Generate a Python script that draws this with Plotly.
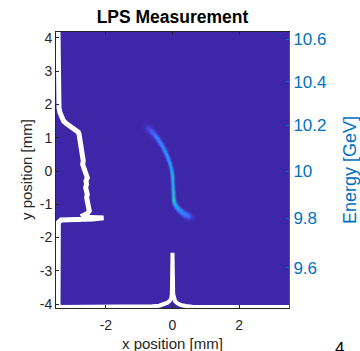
import numpy as np
import plotly.graph_objects as go

# ---------------- data ----------------
# LPS streak ridge (x [mm], y [mm], relative intensity, half-width [mm])
ridge_x = [-0.82, -0.74, -0.63, -0.54, -0.46, -0.39, -0.32, -0.26, -0.21, -0.16,
           -0.12, -0.08, -0.05, -0.03, -0.01, 0.00, 0.00, 0.01, 0.01, 0.02,
           0.02, 0.03, 0.06, 0.12, 0.20, 0.29, 0.38, 0.47, 0.56]
ridge_y = [1.38, 1.30, 1.19, 1.09, 0.99, 0.88, 0.77, 0.66, 0.55, 0.44,
           0.33, 0.22, 0.11, 0.00, -0.11, -0.22, -0.33, -0.44, -0.55, -0.66,
           -0.77, -0.88, -0.98, -1.08, -1.17, -1.25, -1.31, -1.36, -1.40]
ridge_amp = [0.02, 0.07, 0.13, 0.18, 0.22, 0.24, 0.26, 0.28, 0.30, 0.32,
             0.34, 0.36, 0.40, 0.45, 0.50, 0.52, 0.50, 0.48, 0.52, 0.55,
             0.58, 0.66, 0.52, 0.40, 0.30, 0.24, 0.20, 0.16, 0.04]
ridge_w = [0.08, 0.07, 0.06, 0.05, 0.045, 0.042, 0.04, 0.04, 0.038, 0.036,
           0.034, 0.032, 0.030, 0.030, 0.030, 0.030, 0.030, 0.030, 0.030, 0.030,
           0.030, 0.032, 0.036, 0.042, 0.048, 0.055, 0.06, 0.065, 0.07]

# vertical projection (drawn on the left)
proj_y_y = [4.18, 3.0, 2.4, 2.1, 1.9, 1.75, 1.6, 1.5, 1.42, 1.35, 1.28, 1.22, 1.17,
            1.12, 1.0, 0.9, 0.8, 0.7, 0.6, 0.5, 0.4, 0.3, 0.2, 0.1, 0.0, -0.1,
            -0.2, -0.3, -0.4, -0.5, -0.6, -0.7, -0.8, -0.9, -1.0, -1.1, -1.2,
            -1.28, -1.34, -1.39, -1.41, -1.44, -1.47, -1.55, -2.5, -4.12]
proj_y_x = [-3.44, -3.44, -3.43, -3.42, -3.41, -3.38, -3.33, -3.27, -3.18, -3.08,
            -2.96, -2.88, -2.83, -2.81, -2.79, -2.78, -2.76, -2.75, -2.74, -2.72,
            -2.70, -2.68, -2.70, -2.66, -2.62, -2.60, -2.56, -2.60, -2.58, -2.61,
            -2.58, -2.56, -2.58, -2.56, -2.57, -2.53, -2.50, -2.56, -2.68, -2.65,
            -2.07, -2.40, -3.35, -3.43, -3.44, -3.44]

# horizontal projection (drawn at the bottom)
proj_x_x = [-3.5, -2.0, -1.0, -0.6, -0.4, -0.25, -0.15, -0.08, -0.04, -0.02, 0.0,
            0.02, 0.04, 0.08, 0.15, 0.25, 0.4, 0.6, 1.0, 2.0, 3.5]
proj_x_y = [-4.09, -4.09, -4.08, -4.07, -4.05, -4.01, -3.96, -3.90, -3.84, -3.70,
            -2.46, -3.70, -3.84, -3.92, -3.98, -4.03, -4.06, -4.08, -4.09, -4.09, -4.09]

# ticks
x_tick_vals = [-2, 0, 2]
x_tick_text = ["-2", "0", "2"]
y_tick_vals = [-4, -3, -2, -1, 0, 1, 2, 3, 4]
y_tick_text = ["-4", "-3", "-2", "-1", "0", "1", "2", "3", "4"]
energy_ticks = [9.6, 9.8, 10.0, 10.2, 10.4, 10.6]
energy_text = ["9.6", "9.8", "10", "10.2", "10.4", "10.6"]

E0 = 10.0          # GeV at y = 0
DISP = 69.85       # dispersion [mm]

X_RANGE = [-3.5, 3.5]
Y_RANGE = [-4.12, 4.18]

# ---------------- build image table ----------------
gx = np.arange(-1.2, 1.0001, 0.02)
gy = np.arange(-1.8, 1.8001, 0.02)
GX, GY = np.meshgrid(gx, gy)
Z = np.zeros_like(GX)
for i in range(len(ridge_x) - 1):
    x0, y0, x1, y1 = ridge_x[i], ridge_y[i], ridge_x[i + 1], ridge_y[i + 1]
    dx, dy = x1 - x0, y1 - y0
    L2 = dx * dx + dy * dy
    t = np.clip(((GX - x0) * dx + (GY - y0) * dy) / L2, 0, 1)
    d = np.hypot(GX - (x0 + t * dx), GY - (y0 + t * dy))
    a = ridge_amp[i] + (ridge_amp[i + 1] - ridge_amp[i]) * t
    w = ridge_w[i] + (ridge_w[i + 1] - ridge_w[i]) * t
    Z = np.maximum(Z, a * np.exp(-0.5 * (d / w) ** 2))

parula = [
    [0.00, "rgb(62,38,168)"],
    [0.10, "rgb(71,80,240)"],
    [0.20, "rgb(52,125,252)"],
    [0.30, "rgb(30,155,232)"],
    [0.40, "rgb(8,180,210)"],
    [0.50, "rgb(30,192,178)"],
    [0.60, "rgb(95,203,120)"],
    [0.70, "rgb(168,199,70)"],
    [0.80, "rgb(225,186,58)"],
    [0.90, "rgb(252,205,48)"],
    [1.00, "rgb(249,251,14)"],
]

FONT = "Liberation Sans, Arial, sans-serif"
DARK = "#262626"
BLUE = "#0072BD"

# plot-area geometry in pixels (for placing the axis titles)
L, R, T, B = 56, 71, 32, 43
W, H = 360, 351
PW, PH = W - L - R, H - T - B


def px(xp):
    return (xp - L) / PW


def py(yp):
    return (H - B - yp) / PH


fig = go.Figure()
fig.add_trace(go.Heatmap(x=gx, y=gy, z=Z, colorscale=parula, zmin=0, zmax=1,
                         zsmooth="best", showscale=False, hoverinfo="skip"))
fig.add_trace(go.Scatter(x=proj_y_x, y=proj_y_y, mode="lines",
                         line=dict(color="white", width=5), showlegend=False))
fig.add_trace(go.Scatter(x=proj_x_x, y=proj_x_y, mode="lines",
                         line=dict(color="white", width=4), showlegend=False))

energy_pos = [DISP * (1 - E0 / e) for e in energy_ticks]

fig.update_layout(
    width=W, height=H,
    margin=dict(l=L, r=R, t=T, b=B, autoexpand=False),
    paper_bgcolor="white",
    plot_bgcolor="rgb(62,38,168)",
    showlegend=False,
    title=dict(text="<b>LPS Measurement</b>", x=(L + W - R) / 2 / W, xanchor="center",
               y=1 - 17 / H, yanchor="middle", yref="container",
               font=dict(family=FONT, size=17.5, color="black")),
    xaxis=dict(range=X_RANGE, tickvals=x_tick_vals, ticktext=x_tick_text,
               ticks="inside", ticklen=3, tickcolor=DARK, showline=True,
               linecolor=DARK, linewidth=1, mirror="ticks", showgrid=False,
               zeroline=False, automargin=False,
               tickfont=dict(family=FONT, size=14, color=DARK),
               ticklabelstandoff=4),
    yaxis=dict(range=Y_RANGE, tickvals=y_tick_vals, ticktext=y_tick_text,
               ticks="inside", ticklen=3, tickcolor=DARK, showline=True,
               linecolor=DARK, linewidth=1, mirror=False, showgrid=False,
               zeroline=False, automargin=False,
               tickfont=dict(family=FONT, size=14, color=DARK)),
    yaxis2=dict(range=Y_RANGE, overlaying="y", side="right", tickvals=energy_pos,
                ticktext=energy_text, ticks="inside", ticklen=3, tickcolor=BLUE,
                showline=True, linecolor=BLUE, linewidth=1, showgrid=False,
                zeroline=False, automargin=False,
                tickfont=dict(family=FONT, size=17, color=BLUE)),
    annotations=[
        dict(text="x position [mm]", xref="paper", yref="paper", x=px(172.5), y=py(343),
             xanchor="center", yanchor="middle", showarrow=False,
             font=dict(family=FONT, size=15, color=DARK)),
        dict(text="y position [mm]", xref="paper", yref="paper", x=px(26), y=py(170),
             xanchor="center", yanchor="middle", textangle=-90, showarrow=False,
             font=dict(family=FONT, size=15, color=DARK)),
        dict(text="Energy [GeV]", xref="paper", yref="paper", x=px(350), y=py(170),
             xanchor="center", yanchor="middle", textangle=-90, showarrow=False,
             font=dict(family=FONT, size=18, color=BLUE)),
        dict(text="4", xref="paper", yref="paper", x=px(339), y=py(337),
             xanchor="center", yanchor="top", showarrow=False,
             font=dict(family=FONT, size=17, color="black")),
    ],
)
# dummy trace to activate yaxis2
fig.add_trace(go.Scatter(x=[None], y=[None], yaxis="y2", showlegend=False))

fig.write_html("out.html")
